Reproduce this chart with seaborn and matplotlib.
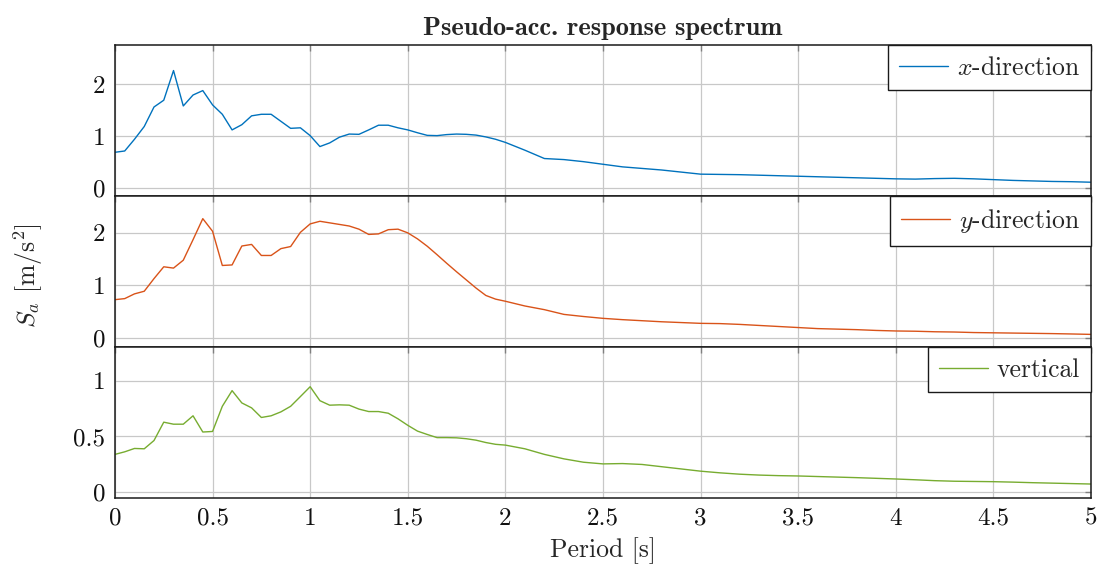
import numpy as np
import pandas as pd
import matplotlib
matplotlib.use("Agg")
import matplotlib.pyplot as plt
import seaborn as sns

# period samples [s]
period = [0.0, 0.05, 0.1, 0.15, 0.2, 0.25, 0.3, 0.35, 0.4, 0.45,
          0.5, 0.55, 0.6, 0.65, 0.7, 0.75, 0.8, 0.85, 0.9, 0.95,
          1.0, 1.05, 1.1, 1.15, 1.2, 1.25, 1.3, 1.35, 1.4, 1.45,
          1.5, 1.55, 1.6, 1.65, 1.7, 1.75, 1.8, 1.85, 1.9, 1.95,
          2.0, 2.1, 2.2, 2.3, 2.4, 2.5, 2.6, 2.7, 2.8, 2.9,
          3.0, 3.1, 3.2, 3.3, 3.4, 3.5, 3.6, 3.7, 3.8, 3.9,
          4.0, 4.1, 4.2, 4.3, 4.4, 4.5, 4.6, 4.7, 4.8, 4.9, 5.0]

sa_x = [0.69, 0.715, 0.94, 1.185, 1.56, 1.69, 2.26, 1.58, 1.79, 1.875,
        1.60, 1.42, 1.12, 1.22, 1.39, 1.42, 1.42, 1.285, 1.15, 1.16,
        1.01, 0.80, 0.87, 0.98, 1.04, 1.035, 1.12, 1.21, 1.21, 1.16,
        1.12, 1.065, 1.015, 1.01, 1.03, 1.04, 1.035, 1.02, 0.985, 0.94,
        0.88, 0.73, 0.57, 0.55, 0.51, 0.46, 0.41, 0.38, 0.35, 0.31,
        0.27, 0.265, 0.26, 0.25, 0.24, 0.23, 0.22, 0.21, 0.20, 0.19,
        0.18, 0.175, 0.185, 0.19, 0.18, 0.165, 0.15, 0.14, 0.13, 0.125, 0.115]

sa_y = [0.73, 0.75, 0.84, 0.89, 1.13, 1.355, 1.33, 1.48, 1.87, 2.27,
        2.03, 1.38, 1.39, 1.75, 1.78, 1.57, 1.57, 1.70, 1.74, 2.01,
        2.17, 2.22, 2.19, 2.16, 2.13, 2.07, 1.97, 1.98, 2.06, 2.07,
        2.0, 1.885, 1.745, 1.585, 1.42, 1.26, 1.105, 0.95, 0.81, 0.74,
        0.70, 0.61, 0.54, 0.45, 0.41, 0.375, 0.35, 0.33, 0.31, 0.295,
        0.28, 0.275, 0.26, 0.24, 0.22, 0.20, 0.18, 0.17, 0.16, 0.145,
        0.135, 0.13, 0.12, 0.115, 0.105, 0.10, 0.095, 0.09, 0.085, 0.078, 0.07]

sa_z = [0.34, 0.363, 0.393, 0.39, 0.464, 0.628, 0.61, 0.61, 0.685, 0.54,
        0.545, 0.77, 0.91, 0.80, 0.756, 0.67, 0.685, 0.72, 0.77, 0.857,
        0.945, 0.82, 0.78, 0.783, 0.78, 0.745, 0.723, 0.723, 0.708, 0.658,
        0.60, 0.548, 0.518, 0.49, 0.49, 0.488, 0.48, 0.467, 0.446, 0.43,
        0.423, 0.39, 0.34, 0.30, 0.27, 0.255, 0.258, 0.25, 0.23, 0.21,
        0.19, 0.175, 0.163, 0.155, 0.15, 0.147, 0.142, 0.137, 0.132, 0.126,
        0.12, 0.113, 0.105, 0.10, 0.098, 0.096, 0.092, 0.087, 0.083, 0.079, 0.075]

labels = ["$x$-direction", "$y$-direction", "vertical"]
colors = ["#0072BD", "#D95319", "#77AC30"]
ylims = [(-0.15, 2.75), (-0.17, 2.7), (-0.05, 1.3)]
yticks = [[0, 1, 2], [0, 1, 2], [0, 0.5, 1]]
x_ticks = [0, 0.5, 1, 1.5, 2, 2.5, 3, 3.5, 4, 4.5, 5]

sns.set_theme(style="whitegrid")
plt.rcParams["font.family"] = ["cmr10", "DejaVu Serif"]
plt.rcParams["mathtext.fontset"] = "cm"
plt.rcParams["axes.formatter.use_mathtext"] = True

fig, axes = plt.subplots(3, 1, figsize=(10.99, 5.70), dpi=100, sharex=True)
fig.subplots_adjust(left=0.1046, right=0.9927, top=0.921, bottom=0.1263, hspace=0)

for ax, vals, lab, col, yl, yt in zip(axes, [sa_x, sa_y, sa_z], labels, colors, ylims, yticks):
    df = pd.DataFrame({"period": period, "sa": vals})
    sns.lineplot(data=df, x="period", y="sa", ax=ax, color=col, lw=1.0, label=lab)
    ax.set_xlim(0, 5)
    ax.set_ylim(*yl)
    ax.set_yticks(yt)
    ax.set_yticklabels([f"{v:g}" for v in yt])
    ax.set_xticks(x_ticks)
    ax.set_xlabel("")
    ax.set_ylabel("")
    ax.grid(True, color="#c8c8c8", lw=0.9)
    ax.set_facecolor("white")
    for s in ax.spines.values():
        s.set_color("#1a1a1a")
        s.set_linewidth(1.1)
    ax.tick_params(direction="in", length=4, color="#808080", width=1.0,
                   top=True, right=True, labelsize=18, pad=7, labelcolor="#111111")
    leg = ax.legend(loc="upper right", fontsize=18.5, frameon=True, fancybox=False,
                    framealpha=1, edgecolor="#1a1a1a", borderaxespad=0.0,
                    handlelength=1.9, handletextpad=0.35, borderpad=0.42)
    leg.get_frame().set_linewidth(1.0)

axes[-1].set_xticklabels([f"{v:g}" for v in x_ticks])
axes[-1].set_xlabel("Period [s]", fontsize=18.5, labelpad=5)
axes[0].set_title("Pseudo-acc. response spectrum", fontsize=19, fontfamily="cmb10", pad=7)
fig.text(0.026, 0.517, "$S_a$ [m/s$^2$]", rotation=90, va="center", ha="center", fontsize=18.5)

fig.savefig("out.png", dpi=100)
